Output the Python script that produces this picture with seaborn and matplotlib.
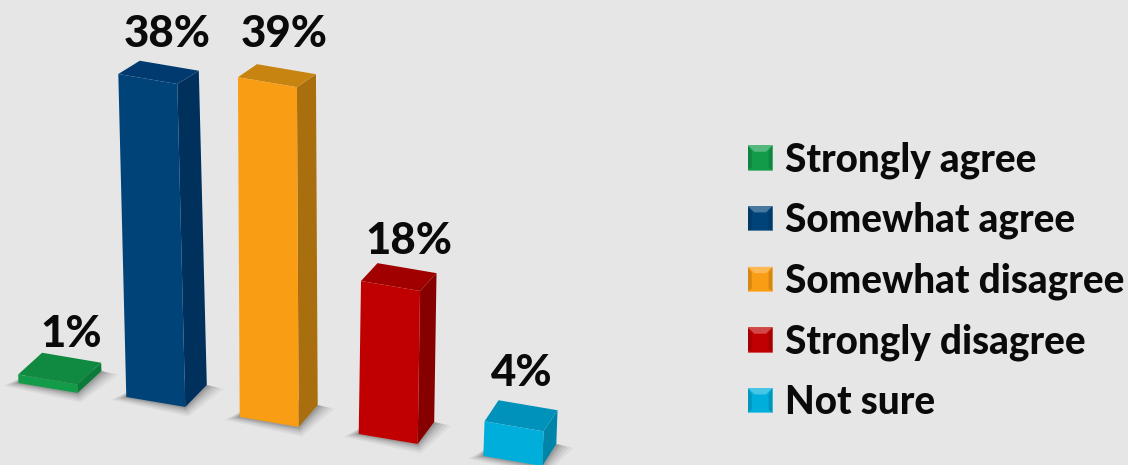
import matplotlib
matplotlib.use("Agg")
import matplotlib.pyplot as plt
import pandas as pd
import seaborn as sns
from matplotlib.colors import to_rgb
from matplotlib.legend_handler import HandlerBase
from matplotlib.patches import Patch, Polygon
from matplotlib.transforms import Affine2D

# Survey results
responses = ["Strongly agree", "Somewhat agree", "Somewhat disagree", "Strongly disagree", "Not sure"]
shares = [1, 38, 39, 18, 4]
front_colors = ["#129b49", "#004379", "#f99d14", "#c00000", "#00aedb"]
side_colors = ["#0c7a38", "#00305c", "#a96f0e", "#860000", "#0085a8"]
top_colors = ["#0f8a40", "#003a6e", "#c88410", "#a00000", "#0092ba"]

# View geometry of the tilted floor, in pixels
floor_rows = [383, 397, 417, 434, 456]
height_scale = [1, 1, 1.025, 1, 1.02]
label_lift = [0, 8, 11, 3, 8]
label_nudge = [4, 2, 2, 6, -2]

BG = "#e6e6e6"
W, H = 1128, 465
PX_PER_CAT = 110.0     # horizontal pixels per category step
PX_PER_PCT = 8.5       # vertical pixels per percentage point
BAR_W = 59 / PX_PER_CAT
X0_PX = 48

sns.set_theme(style="white")
plt.rcParams["font.family"] = ["Lato", "DejaVu Sans"]

fig = plt.figure(figsize=(W / 100, H / 100), dpi=100, facecolor=BG)
ax = fig.add_axes([0, 0, 1, 1], facecolor=BG)

df = pd.DataFrame({"response": responses, "share": shares})
sns.barplot(data=df, x="response", y="share", hue="response", palette=front_colors,
            saturation=1, width=BAR_W, legend=False, ax=ax)
ax.set_xlim(-X0_PX / PX_PER_CAT, (W - X0_PX) / PX_PER_CAT)
ax.set_ylim(0, H / PX_PER_PCT)
ax.set_axis_off()

FLOOR_SLOPE = (10 / PX_PER_PCT) / (59 / PX_PER_CAT)   # tilt of the front edge


def floor_px(i):
    return 48 + 105 * i + 2.8 * i * i


def shift(i):
    return (floor_px(i) - 48) / PX_PER_CAT - i


def floor_y(i):
    return (H - floor_rows[i]) / PX_PER_PCT


def lean(i):
    return (floor_px(i) - 300) * 0.00146 / PX_PER_CAT


def project(i, u, v, d):
    """Map bar-local width position u, height v and depth d (0 or 1) to data space."""
    depth_x = (24 - 2.5 * i) / PX_PER_CAT
    depth_y = (22 - 0.23 * v) / PX_PER_PCT
    x = i + shift(i) + u + lean(i) * v + d * depth_x
    y = floor_y(i) + v * height_scale[i] - FLOOR_SLOPE * (u + BAR_W / 2) + d * depth_y
    return x, y


def shade(color, amount):
    """Blend towards white for positive amounts, towards black for negative."""
    r, g, b = to_rgb(color)
    if amount >= 0:
        return (r + (1 - r) * amount, g + (1 - g) * amount, b + (1 - b) * amount)
    return (r * (1 + amount), g * (1 + amount), b * (1 + amount))


half = BAR_W / 2
for i, (rect, v) in enumerate(zip(ax.patches, shares)):
    # soft contact shadow on the floor, built from stacked translucent layers
    for grow, alpha in [(0.14, 0.07), (0.11, 0.10), (0.08, 0.14), (0.05, 0.20), (0.025, 0.25)]:
        gx = grow
        gy = grow * 8
        base = [project(i, -half, 0, 0), project(i, half, 0, 0),
                project(i, half, 0, 1), project(i, -half, 0, 1)]
        pts = [(base[0][0] - gx, base[0][1] - gy * 0.3),
               (base[1][0] + gx * 0.2, base[1][1] - gy),
               (base[2][0] + gx * 1.1, base[2][1] - gy * 0.4),
               (base[3][0] + gx, base[3][1])]
        ax.add_patch(Polygon(pts, closed=True, fc="#666666", ec="none", alpha=alpha, zorder=1))

    side = [project(i, half, 0, 0), project(i, half, v, 0), project(i, half, v, 1), project(i, half, 0, 1)]
    top = [project(i, -half, v, 0), project(i, half, v, 0), project(i, half, v, 1), project(i, -half, v, 1)]
    ax.add_patch(Polygon(side, closed=True, fc=side_colors[i], ec="none", zorder=2))
    ax.add_patch(Polygon(top, closed=True, fc=top_colors[i], ec="none", zorder=2))

    # the front face is seaborn's own bar, sheared into the tilted view
    skew = Affine2D.from_values(1, -FLOOR_SLOPE, lean(i), height_scale[i], shift(i),
                                floor_y(i) + FLOOR_SLOPE * (i - half))
    rect.set_transform(skew + ax.transData)
    rect.set_zorder(3)
    rect.set_edgecolor("none")

    back_center = project(i, 0, v, 1)
    ax.annotate(f"{v}%", xy=back_center,
                xytext=(-2.9 + label_nudge[i] * 0.72, 2.9 + label_lift[i] * 0.72),
                textcoords="offset points", ha="center", va="bottom",
                fontsize=31.5, fontweight="black", color="#0a0a0a", zorder=5)


class BevelHandler(HandlerBase):
    """Legend key drawn as a small bevelled square."""

    def create_artists(self, legend, orig, xd, yd, width, height, fontsize, trans):
        color = orig.get_facecolor()
        size = 17.5
        x0 = xd * -1
        y0 = -yd + (height - size) / 2
        inset = 4.5
        square = Polygon([(x0, y0), (x0 + size, y0), (x0 + size, y0 + size), (x0, y0 + size)],
                         closed=True, fc=color, ec=shade(color, 0.3), lw=0.6, transform=trans)
        left = Polygon([(x0, y0), (x0 + inset * 0.6, y0 + inset * 0.4),
                        (x0 + inset * 0.6, y0 + size - inset), (x0, y0 + size)],
                       closed=True, fc=shade(color, -0.14), ec="none", transform=trans)
        right = Polygon([(x0 + size, y0), (x0 + size - inset * 0.6, y0 + inset * 0.4),
                         (x0 + size - inset * 0.6, y0 + size - inset), (x0 + size, y0 + size)],
                        closed=True, fc=shade(color, -0.14), ec="none", transform=trans)
        cap = Polygon([(x0, y0 + size), (x0 + size, y0 + size),
                       (x0 + size - inset, y0 + size - inset), (x0 + inset, y0 + size - inset)],
                      closed=True, fc=shade(color, 0.28), ec="none", transform=trans)
        return [square, left, right, cap]


handles = [Patch(facecolor=c, label=r) for c, r in zip(front_colors, responses)]
ax.legend(handles=handles, loc="center left", bbox_to_anchor=(748 / W, 1 - 281 / H),
          frameon=False, prop={"size": 27.8, "weight": "black"}, labelcolor="#0a0a0a",
          handler_map={Patch: BevelHandler()}, handlelength=0.65, handletextpad=0.3,
          labelspacing=0.60, borderpad=0, borderaxespad=0)

fig.savefig("out.png", dpi=100, facecolor=BG)
